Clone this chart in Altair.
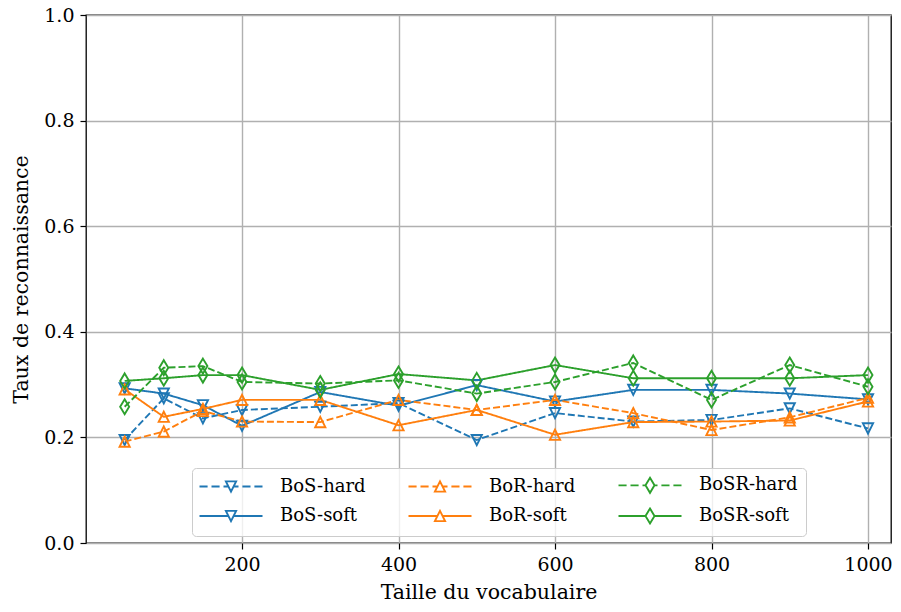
import altair as alt
import pandas as pd

# ---- data ----
x_vals = [50, 100, 150, 200, 300, 400, 500, 600, 700, 800, 900, 1000]
bos_hard = [0.195, 0.274, 0.236, 0.252, 0.258, 0.265, 0.195, 0.246, 0.230, 0.233, 0.255, 0.217]
bos_soft = [0.293, 0.283, 0.261, 0.222, 0.286, 0.260, 0.299, 0.268, 0.290, 0.290, 0.283, 0.272]
bor_hard = [0.192, 0.211, 0.250, 0.230, 0.229, 0.271, 0.252, 0.271, 0.246, 0.214, 0.238, 0.275]
bor_soft = [0.291, 0.239, 0.254, 0.271, 0.271, 0.223, 0.252, 0.205, 0.229, 0.230, 0.232, 0.268]
bosr_hard = [0.258, 0.332, 0.335, 0.305, 0.302, 0.308, 0.283, 0.305, 0.341, 0.271, 0.337, 0.296]
bosr_soft = [0.307, 0.312, 0.318, 0.318, 0.290, 0.320, 0.308, 0.337, 0.312, 0.312, 0.312, 0.318]

# legend fills column by column: (hard, soft) per family
series_names = ["BoS-hard", "BoS-soft", "BoR-hard", "BoR-soft", "BoSR-hard", "BoSR-soft"]
series_values = [bos_hard, bos_soft, bor_hard, bor_soft, bosr_hard, bosr_soft]
series_colors = ["#1f77b4", "#1f77b4", "#ff7f0e", "#ff7f0e", "#2ca02c", "#2ca02c"]
families = ["BoS", "BoR", "BoSR"]
variants = ["hard", "soft"]
x_ticks = [200, 400, 600, 800, 1000]
y_ticks = [0.0, 0.2, 0.4, 0.6, 0.8, 1.0]

# ---- marker shapes ----
TRI_DOWN = "M-0.85,-0.85L0.85,-0.85L0,0.85Z"
TRI_UP = "M0,-0.85L0.85,0.85L-0.85,0.85Z"
DIAMOND = "M0,-1.25L0.75,0L0,1.25L-0.75,0Z"
family_markers = [TRI_DOWN, TRI_UP, DIAMOND]
family_edges = [0.425, 0.425, 0.75]
variant_dashes = [[7, 3], [1, 0]]


def legend_path(marker, e, dashed):
    if dashed:
        line = (f"M-5.25,0L-3.9,0M-3.25,0L-1.9,0M-1.25,0L-{e},0"
                f"M{e},0L1.25,0M1.9,0L3.25,0M3.9,0L5.25,0")
    else:
        line = f"M-5.25,0L-{e},0M{e},0L5.25,0"
    return line + marker


legend_paths = []
for n in series_names:
    fam, var = n.split("-")
    i = families.index(fam)
    legend_paths.append(legend_path(family_markers[i], family_edges[i], var == "hard"))
expr = "'" + legend_paths[-1] + "'"
for n, p in reversed(list(zip(series_names[:-1], legend_paths[:-1]))):
    expr = f"datum.value === '{n}' ? '{p}' : ({expr})"

rows = []
for name, vals in zip(series_names, series_values):
    fam, var = name.split("-")
    for xv, yv in zip(x_vals, vals):
        rows.append({"series": name, "family": fam, "variant": var, "x": xv, "y": yv})
df = pd.DataFrame(rows)

FONT = "DejaVu Serif"

legend = alt.Legend(
    title=None,
    orient="none",
    legendX=106,
    legendY=453,
    columns=3,
    symbolType={"expr": expr},
    symbolSize=144,
    symbolStrokeWidth=1.9,
    symbolOpacity=1,
    symbolFillColor="transparent",
    symbolOffset=22,
    labelOffset=40,
    columnPadding=38,
    rowPadding=7,
    padding=8,
    strokeColor="#cccccc",
    fillColor="rgba(255,255,255,0.8)",
    cornerRadius=4,
    labelFont=FONT,
    labelFontSize=18,
    labelColor="black",
    labelLimit=400,
)

x_enc = alt.X("x:Q", scale=alt.Scale(domain=[0.6, 1029.4], nice=False, zero=False),
              axis=alt.Axis(values=x_ticks, title="Taille du vocabulaire", format="d"))
y_enc = alt.Y("y:Q", scale=alt.Scale(domain=[0, 1], nice=False),
              axis=alt.Axis(values=y_ticks, title="Taux de reconnaissance", format=".1f"))
color_enc = alt.Color("series:N", scale=alt.Scale(domain=series_names, range=series_colors), legend=legend)

lines = alt.Chart(df).mark_line(strokeWidth=1.9).encode(
    x=x_enc, y=y_enc, color=color_enc,
    strokeDash=alt.StrokeDash("variant:N", scale=alt.Scale(domain=variants, range=variant_dashes), legend=None),
    detail="series:N",
)

points = alt.Chart(df).mark_point(filled=False, strokeWidth=1.9, size=144, opacity=1).encode(
    x=x_enc, y=y_enc, color=color_enc,
    shape=alt.Shape("family:N", scale=alt.Scale(domain=families, range=family_markers), legend=None),
)

chart = alt.layer(lines, points).properties(
    width=805,
    height=528,
    autosize=alt.AutoSizeParams(type="none"),
    padding={"left": 78, "top": 7, "right": 2, "bottom": 61},
).configure_view(
    stroke="black", strokeWidth=1.3
).configure_axis(
    domain=False,
    grid=True,
    gridColor="#b0b0b0",
    gridWidth=1.4,
    tickColor="black",
    tickSize=6,
    tickWidth=1.2,
    labelFont=FONT,
    labelFontSize=19,
    labelColor="black",
    labelPadding=6,
    titleFont=FONT,
    titleFontSize=20.5,
    titleFontWeight="normal",
    titleColor="black",
).configure_axisX(
    titlePadding=8,
).configure_axisY(
    titlePadding=12,
)

chart.save("out.html", embed_options={"renderer": "svg", "actions": False})
